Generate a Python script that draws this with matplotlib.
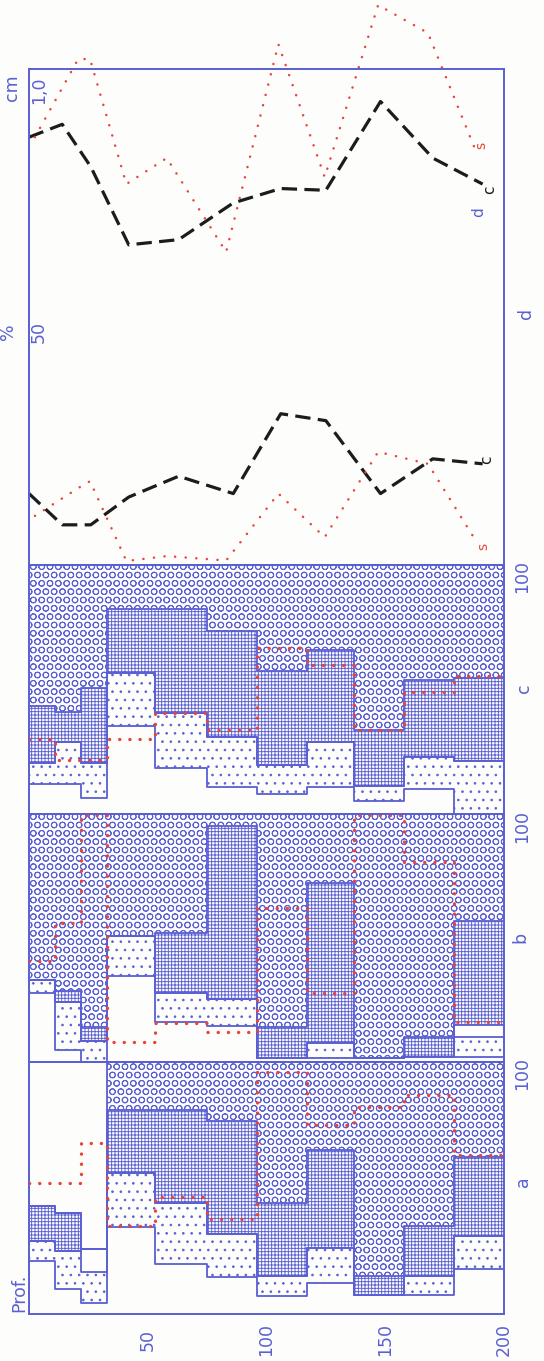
import matplotlib
matplotlib.use('Agg')
import matplotlib.pyplot as plt

W, H, DPI = 544, 1361, 100
BLUE = '#5a5fd3'
RED = '#e9443a'
BLACK = '#1c1c1c'
BG = '#fdfdfb'

plt.rcParams['hatch.linewidth'] = 0.65
plt.rcParams['font.family'] = ['DejaVu Sans']

# ---------------- data ----------------
depth_edges = [0, 11, 22, 33, 53, 75, 96, 117, 137, 158, 179, 200]
depth_ticks = [50, 100, 150, 200]
depth_tick_labels = ['50', '100', '150', '200']

# panel a (cumulative %)
a_dots_lo = [21, 10, 4.5, 34.5, 20, 14.7, 7, 12.5, 7.7, 7.7, 18]
a_dots_hi = [28.8, 25, 16.7, 56, 44, 31.7, 15, 26, 7.7, 15, 31]
a_grid_lo = [28.8, 25, 25.6, 56, 44, 31.7, 15, 26, 7.7, 15, 31]
a_grid_hi = [43, 40, 25.6, 81, 81, 76.5, 44, 65, 15, 35, 62.4]
a_circ_hi = [43, 40, 25.6, 100, 100, 100, 100, 100, 100, 100, 100]
a_red = [52, 52, 68, 35, 46.5, 37.7, 96, 75, 82, 87, 63]

# panel b
b_dots_lo = [28, 4.8, 0, 34.7, 16, 14.5, 1.5, 1.5, 1.5, 2, 2]
b_dots_hi = [33, 24, 8.5, 51, 28, 25.4, 1.5, 7.7, 1.5, 2, 10]
b_grid_lo = [33, 24, 8.5, 51, 28, 25.4, 1.5, 7.7, 1.5, 2, 15]
b_grid_hi = [33, 28.5, 14, 51, 52, 95, 14, 72, 1.5, 10, 57]
b_circ_hi = [100] * 11
b_red = [40.7, 56, 99.5, 8, 15.7, 12, 62, 28, 99.5, 80.6, 16]

# panel c
c_dots_lo = [12, 12, 6.4, 35.3, 18.5, 11, 8, 11, 5.2, 10, 0]
c_dots_hi = [20.5, 29, 20.5, 56.6, 40.6, 31, 19.7, 29, 11.2, 22.9, 21.3]
c_grid_lo = [20.5, 29, 20.5, 56.6, 40.6, 31, 19.7, 29, 11.2, 22.9, 21.3]
c_grid_hi = [43.4, 41, 50.6, 82.5, 82.5, 73.5, 57.4, 66, 33.8, 53.8, 54.6]
c_circ_hi = [100] * 11
c_red = [30, 21.7, 21.7, 30, 40.6, 33.8, 66.5, 60, 33.8, 49, 55.5]

# panel d (curves)
line_depth_black = [0, 14, 26, 42, 63, 86, 106, 125, 148, 170, 191]
c_pct = [14.4, 8.1, 8.1, 13.7, 17.9, 14.4, 30.5, 29.1, 14.4, 21.4, 20.4]
d_cm = [0.725, 0.777, 0.606, 0.291, 0.312, 0.46, 0.518, 0.511, 0.869, 0.641, 0.536]
line_depth_red = [2.5, 20.7, 25.7, 41, 58, 83, 105, 124.5, 147, 168, 188.5]
s_pct = [9.9, 15.5, 16.9, 0.8, 1.8, 0.9, 14.4, 5.6, 22.8, 20.4, 4.6]
s_cm = [0.725, 1.04, 1.04, 0.536, 0.641, 0.262, 1.10, 0.564, 1.258, 1.145, 0.661]

# ---------------- figure ----------------
fig = plt.figure(figsize=(W / DPI, H / DPI), dpi=DPI, facecolor=BG)

X0, X1 = 29, 504


def px_axes(y0, y1):
    ax = fig.add_axes([X0 / W, 1 - y1 / H, (X1 - X0) / W, (y1 - y0) / H])
    ax.set_facecolor('none')
    ax.set_xlim(0, 200)
    ax.set_xticks([])
    ax.set_yticks([])
    for s in ax.spines.values():
        s.set_color(BLUE)
        s.set_linewidth(1.4)
    return ax


def ext(v):
    return list(v) + [v[-1]]


def draw_panel(ax, dots_lo, dots_hi, grid_lo, grid_hi, circ_hi, red):
    ax.set_ylim(0, 100)
    x = depth_edges
    ax.fill_between(x, ext(dots_lo), ext(dots_hi), step='post', facecolor='none',
                    edgecolor=BLUE, hatch='..', linewidth=0)
    ax.fill_between(x, ext(grid_lo), ext(grid_hi), step='post', facecolor='none',
                    edgecolor=BLUE, hatch='+++++', linewidth=0)
    ax.fill_between(x, ext(grid_hi), ext(circ_hi), step='post', facecolor='none',
                    edgecolor=BLUE, hatch='OO', linewidth=0)
    for arr in (dots_lo, dots_hi, grid_lo, grid_hi, circ_hi):
        ax.step(x, ext(arr), where='post', color=BLUE, lw=1.3)
    ax.step(x, ext(red), where='post', color=RED, lw=2.4,
            linestyle=(0, (0.05, 3.0)), dash_capstyle='round', zorder=5)


ax_a = px_axes(1062, 1314)
draw_panel(ax_a, a_dots_lo, a_dots_hi, a_grid_lo, a_grid_hi, a_circ_hi, a_red)
ax_b = px_axes(814, 1062)
draw_panel(ax_b, b_dots_lo, b_dots_hi, b_grid_lo, b_grid_hi, b_circ_hi, b_red)
ax_c = px_axes(565, 814)
draw_panel(ax_c, c_dots_lo, c_dots_hi, c_grid_lo, c_grid_hi, c_circ_hi, c_red)

# depth axis labels
ax_a.set_xticks(depth_ticks)
ax_a.set_xticklabels(depth_tick_labels, rotation=90, va='center', ha='center',
                     color=BLUE, fontsize=12.5)
ax_a.tick_params(axis='x', length=0, pad=18.5)

# line chart (two stacked sub-axes)
ax_lo = px_axes(317, 565)
ax_lo.set_ylim(0, 50)
ax_lo.spines['top'].set_visible(False)
ax_hi = px_axes(69, 317)
ax_hi.set_ylim(0, 1.0)
ax_hi.spines['bottom'].set_visible(False)

dash = dict(color=BLACK, lw=2.3, linestyle=(0, (4.8, 2.3)), clip_on=False)
dots = dict(color=RED, lw=1.8, linestyle=(0, (0.05, 4.2)), dash_capstyle='round',
            clip_on=False)
ax_lo.plot(line_depth_black, c_pct, **dash)
ax_lo.plot(line_depth_red, s_pct, **dots)
ax_hi.plot(line_depth_black, d_cm, **dash)
ax_hi.plot(line_depth_red, s_cm, **dots)


def ftxt(x, y, s, color=BLUE, size=12.5, **kw):
    fig.text(x / W, 1 - y / H, s, color=color, fontsize=size, rotation=90,
             ha='center', va='center', **kw)


ftxt(19, 1293, 'Prof.')
for yy in (1073, 826, 577):
    ftxt(522, yy, '100')
ftxt(523, 1182, 'a')
ftxt(520, 937, 'b')
ftxt(524, 688, 'c')
ftxt(526, 313, 'd')
ftxt(8, 332, '%')
ftxt(39, 332, '50')
ftxt(12, 88, 'cm')
ftxt(39, 90, '1,0')
ftxt(487, 460, 'c', color=BLACK, size=11)
ftxt(483, 546, 's', color=RED, size=10)
ftxt(490, 190, 'c', color=BLACK, size=11)
ftxt(479, 212, 'd', color=BLUE, size=11)
ftxt(481, 145, 's', color=RED, size=10)

fig.savefig('out.png', dpi=DPI, facecolor=BG)
